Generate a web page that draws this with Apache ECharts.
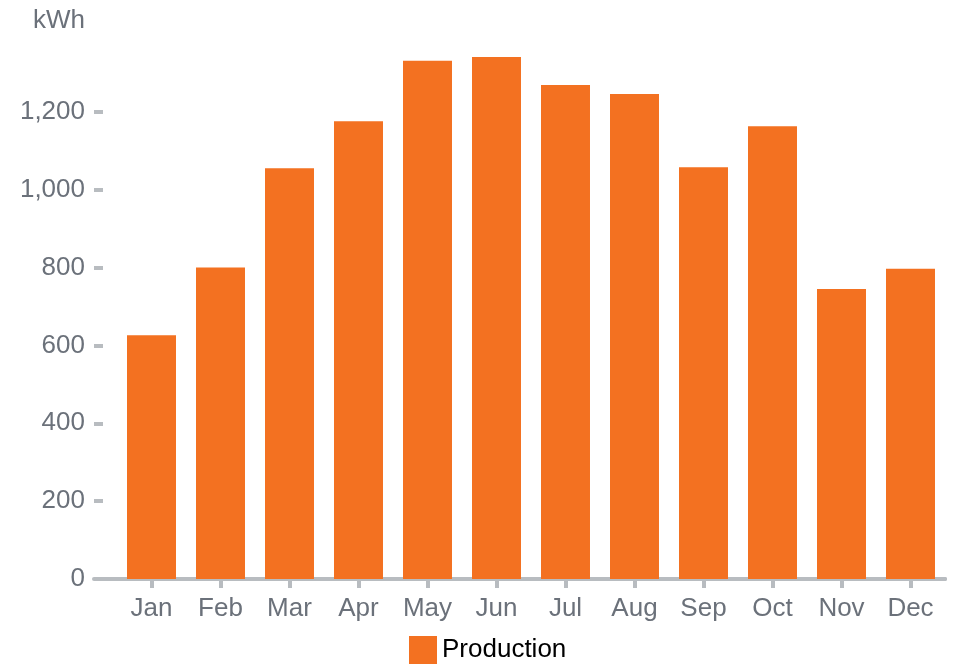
<!DOCTYPE html>
<html style="height: 100%">
<head>
    <meta charset="utf-8">
</head>
<body style="height: 100%; margin: 0; background: #fff">
    <div id="container" style="width: 962px; height: 665px"></div>
    <script type="text/javascript" src="https://cdn.jsdelivr.net/npm/echarts@6/dist/echarts.min.js"></script>
    <script type="text/javascript">
        var months = ['Jan', 'Feb', 'Mar', 'Apr', 'May', 'Jun', 'Jul', 'Aug', 'Sep', 'Oct', 'Nov', 'Dec'];
        var production = [626, 800, 1055, 1176, 1331, 1341, 1269, 1246, 1058, 1163, 745, 797];
        var yTicks = [0, 200, 400, 600, 800, 1000, 1200];

        var grey = '#6b717a';
        var lineGrey = '#b8bcc0';
        var font = 'Liberation Sans, Arial, sans-serif';

        var myChart = echarts.init(document.getElementById('container'));

        var option = {
            backgroundColor: '#fff',
            animation: false,
            legend: {
                left: 409,
                top: 636,
                padding: 0,
                itemWidth: 28,
                itemHeight: 28,
                icon: 'rect',
                textStyle: { color: '#000', fontSize: 26, fontFamily: font, padding: [5, 0, 0, 0] }
            },
            grid: [
                { left: 117, right: 17, top: 34, bottom: 86, outerBoundsMode: 'none', containLabel: false },
                // only there to carry the axis line out to the y ticks
                { left: 94, right: 17, top: 34, bottom: 86, outerBoundsMode: 'none', containLabel: false }
            ],
            xAxis: [
                {
                    type: 'category',
                    data: months,
                    axisLine: { show: true, lineStyle: { color: lineGrey, width: 4 } },
                    axisTick: { show: true, alignWithLabel: true, length: 9, lineStyle: { color: lineGrey, width: 4 } },
                    axisLabel: { color: grey, fontSize: 26, fontFamily: font, margin: 17 }
                },
                {
                    type: 'value', gridIndex: 1, min: 0, max: 1,
                    axisLine: { show: true, lineStyle: { color: lineGrey, width: 4 } },
                    axisTick: { show: false },
                    axisLabel: { show: false },
                    splitLine: { show: false }
                }
            ],
            yAxis: [
                {
                    type: 'value',
                    min: 0,
                    max: 1400,
                    offset: 14,
                    name: 'kWh',
                    nameLocation: 'end',
                    nameGap: 0,
                    nameTextStyle: { color: grey, fontSize: 26, fontFamily: font, align: 'right', padding: [0, 18, 0, 0] },
                    axisLine: { show: false },
                    axisTick: { show: true, length: 9, customValues: yTicks, lineStyle: { color: lineGrey, width: 4 } },
                    axisLabel: {
                        color: grey, fontSize: 26, fontFamily: font, margin: 18,
                        customValues: yTicks,
                        formatter: function (v) { return v.toLocaleString('en-US'); }
                    },
                    splitLine: { show: false }
                },
                { type: 'value', gridIndex: 1, min: 0, max: 1, show: false }
            ],
            series: [
                {
                    name: 'Production',
                    type: 'bar',
                    data: production,
                    barCategoryGap: '29%',
                    itemStyle: { color: '#f37121' }
                }
            ]
        };

        myChart.setOption(option);
    </script>
</body>
</html>
